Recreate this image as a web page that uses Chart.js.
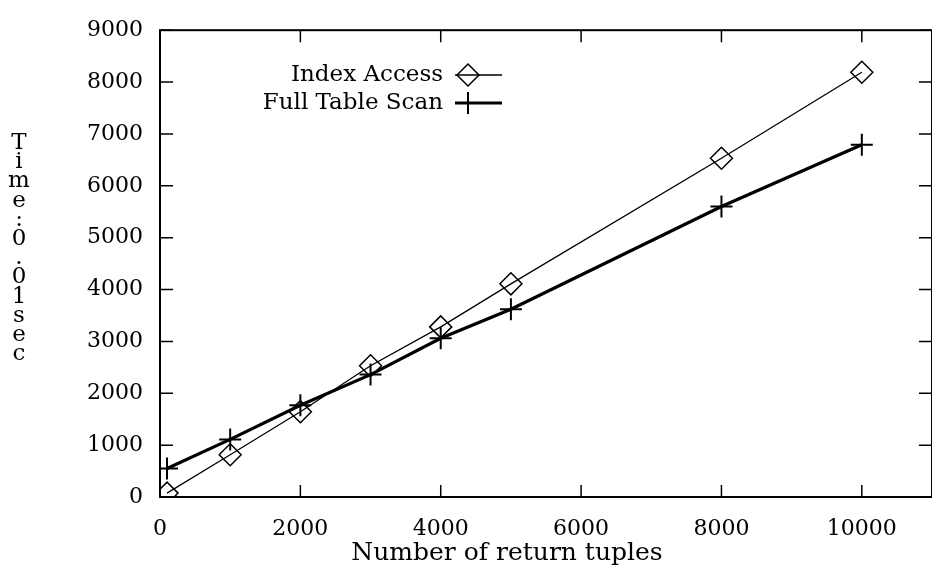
<!DOCTYPE html>
<html>
<head>
<meta charset="utf-8">
<script src="https://cdn.jsdelivr.net/npm/chart.js@4"></script>
<style>
  html, body { margin: 0; padding: 0; background: #fff; overflow: hidden; }
  canvas { display: block; }
</style>
</head>
<body>
<canvas id="chart" width="945" height="570"></canvas>
<script>
var xValues = [100, 1000, 2000, 3000, 4000, 5000, 8000, 10000];
var indexAccess = [75, 815, 1645, 2530, 3280, 4110, 6530, 8190];
var fullTableScan = [550, 1110, 1770, 2360, 3060, 3620, 5600, 6790];
var seriesLabels = ['Index Access', 'Full Table Scan'];
var xTicks = [0, 2000, 4000, 6000, 8000, 10000];
var yTicks = [0, 1000, 2000, 3000, 4000, 5000, 6000, 7000, 8000, 9000];
var yTitle = ['T', 'i', 'm', 'e', ':', '0', '.', '0', '1', 's', 'e', 'c'];
var xTitle = 'Number of return tuples';

var serif = "'DejaVu Serif', 'Liberation Serif', serif";

function pts(ys) {
    return xValues.map(function (x, i) { return { x: x, y: ys[i] }; });
}

function setTicks(list) {
    return function (s) {
        s.ticks = list.map(function (v) { return { value: v }; });
    };
}

// box, inward ticks, axis titles and the legend drawn on top
var decor = {
    id: 'decor',
    afterDraw: function (chart) {
        var c = chart.ctx, a = chart.chartArea;
        var xs = chart.scales.x, ys = chart.scales.y;
        c.save();
        c.strokeStyle = '#000';
        c.lineWidth = 2;
        c.strokeRect(a.left, a.top, a.right - a.left, a.bottom - a.top);
        c.lineWidth = 1.5;
        c.beginPath();
        xs.ticks.forEach(function (t) {
            var px = xs.getPixelForValue(t.value);
            c.moveTo(px, a.bottom); c.lineTo(px, a.bottom - 12);
            c.moveTo(px, a.top); c.lineTo(px, a.top + 12);
        });
        ys.ticks.forEach(function (t) {
            var py = ys.getPixelForValue(t.value);
            c.moveTo(a.left, py); c.lineTo(a.left + 13, py);
            c.moveTo(a.right, py); c.lineTo(a.right - 13, py);
        });
        c.stroke();

        c.fillStyle = '#000';
        c.font = '23px ' + serif;
        c.textAlign = 'center';
        c.textBaseline = 'middle';
        yTitle.forEach(function (ch, i) {
            c.fillText(ch, 19, 143 + i * 19.2);
        });

        c.font = '25px ' + serif;
        c.fillText(xTitle, 507, 553);

        // legend
        c.font = '23px ' + serif;
        c.textAlign = 'right';
        chart.data.datasets.forEach(function (ds, i) {
            var ly = 75 + i * 28;
            c.fillStyle = '#000';
            c.fillText(ds.label, 443, ly);
            c.strokeStyle = '#000';
            c.lineWidth = ds.borderWidth;
            c.beginPath();
            c.moveTo(455, ly); c.lineTo(502, ly);
            c.stroke();
            c.fillStyle = 'rgba(0,0,0,0)';
            c.lineWidth = ds.pointBorderWidth;
            Chart.helpers.drawPoint(c, {
                pointStyle: ds.pointStyle,
                radius: ds.pointRadius,
                borderWidth: ds.pointBorderWidth,
                rotation: 0
            }, 468, ly);
        });
        c.restore();
    }
};

new Chart(document.getElementById('chart'), {
    type: 'scatter',
    data: {
        datasets: [{
            label: seriesLabels[0],
            data: pts(indexAccess),
            showLine: true,
            borderColor: '#000',
            borderWidth: 1.3,
            pointStyle: 'rectRot',
            pointRadius: 11,
            pointBorderWidth: 1.5,
            pointBackgroundColor: 'rgba(0,0,0,0)',
            pointBorderColor: '#000'
        }, {
            label: seriesLabels[1],
            data: pts(fullTableScan),
            showLine: true,
            borderColor: '#000',
            borderWidth: 3.2,
            pointStyle: 'cross',
            pointRadius: 11,
            pointBorderWidth: 2,
            pointBorderColor: '#000'
        }]
    },
    options: {
        responsive: false,
        animation: false,
        layout: { padding: { top: 20, right: 6, left: 0, bottom: 0 } },
        plugins: { legend: { display: false }, tooltip: { enabled: false } },
        scales: {
            x: {
                type: 'linear',
                min: 0,
                max: 11000,
                afterBuildTicks: setTicks(xTicks),
                afterFit: function (s) { s.height = 73; },
                ticks: {
                    color: '#000',
                    padding: 19,
                    maxRotation: 0,
                    autoSkip: false,
                    callback: function (v) { return String(v); },
                    font: { family: serif, size: 22 }
                },
                grid: { display: false, drawTicks: false },
                border: { display: false }
            },
            y: {
                min: 0,
                max: 9000,
                afterBuildTicks: setTicks(yTicks),
                afterFit: function (s) { s.width = 160; },
                ticks: {
                    color: '#000',
                    padding: 17,
                    autoSkip: false,
                    callback: function (v) { return String(v); },
                    font: { family: serif, size: 22 }
                },
                grid: { display: false, drawTicks: false },
                border: { display: false }
            }
        }
    },
    plugins: [decor]
});
</script>
</body>
</html>
